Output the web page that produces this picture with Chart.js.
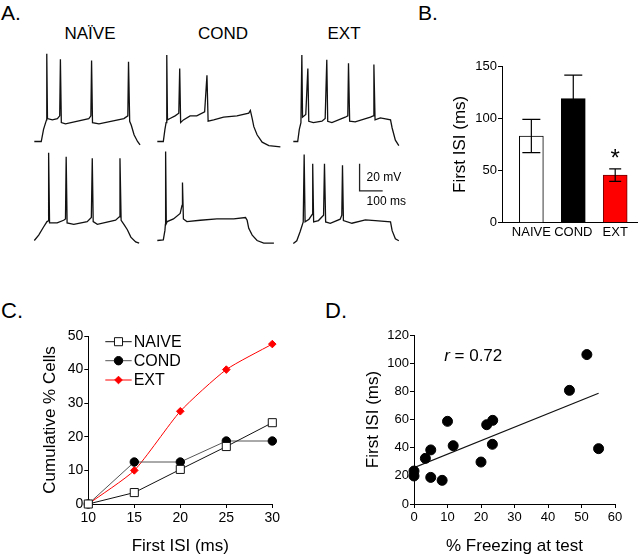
<!DOCTYPE html>
<html>
<head>
<meta charset="utf-8">
<script src="https://cdn.jsdelivr.net/npm/chart.js@4.4.1/dist/chart.umd.min.js"></script>
<style>
html, body { margin: 0; padding: 0; background: #fff; }
#fig { position: relative; width: 640px; height: 557px; overflow: hidden;
       font-family: "Liberation Sans", Arial, sans-serif; color: #000; }
#fig canvas { position: absolute; }
.lbl { position: absolute; line-height: 1; white-space: nowrap; }
.head { font-size: 17px; width: 80px; text-align: center; }
</style>
</head>
<body>
<div id="fig">
  <div class="lbl" style="left:1px;top:2px;font-size:21px">A.</div>
  <div class="lbl" style="left:418px;top:2px;font-size:21px">B.</div>
  <div class="lbl" style="left:1px;top:300px;font-size:22px">C.</div>
  <div class="lbl" style="left:325px;top:300px;font-size:22px">D.</div>

  <div class="lbl head" style="left:50px;top:25px">NAÏVE</div>
  <div class="lbl head" style="left:183px;top:25px">COND</div>
  <div class="lbl head" style="left:304px;top:25px">EXT</div>

  <canvas id="trNaiveTop" width="127" height="108" style="left:31.7px;top:47.2px"></canvas>
  <canvas id="trCondTop" width="127" height="108" style="left:155px;top:46.5px"></canvas>
  <canvas id="trExtTop" width="127" height="108" style="left:291px;top:47.2px"></canvas>
  <canvas id="trNaiveBot" width="127" height="108" style="left:31.7px;top:146.2px"></canvas>
  <canvas id="trCondBot" width="127" height="108" style="left:155px;top:145.5px"></canvas>
  <canvas id="trExtBot" width="127" height="108" style="left:291px;top:148.5px"></canvas>

  <canvas id="chartB" width="200" height="230" style="left:440px;top:50px"></canvas>
  <canvas id="chartC" width="310" height="257" style="left:0px;top:300px"></canvas>
  <canvas id="chartD" width="320" height="257" style="left:320px;top:300px"></canvas>
</div>

<script>
// ---- A. example traces, [ms, mV] vertices ----
const naiveTop = [[0,-65],[30,-65],[40,-56],[49,-51],[53,-49],[54,0],[57,-48],[78,-49],[100,-48],[110,-46],
  [113,-4],[117,-51],[135,-52],[236,-48],[245,-46],[248,-5],[252,-51],[280,-52],[388,-48],[405,-46],
  [408,-6],[413,-50],[420,-53],[432,-60],[447,-65],[458,-67.5]];
const condTop = [[0,-65],[26,-65],[33,-56],[38,-51],[41,-1],[44,-49],[55,-48],[77,-46],[93,-44],
  [97,-11],[101,-51],[113,-49],[142,-46],[171,-46],[205,-43],[215,-16],[220,-50],[244,-49],[287,-47],
  [345,-46],[396,-44],[403,-42],[411,-48],[418,-54],[432,-60],[454,-65.5],[483,-68],[533,-69]];
const extTop = [[0,-65],[19,-65],[26,-56],[33,-51],[37,-1],[40,-47],[54,-45],[63,-11],[67,-50],[87,-51],
  [124,-50],[138,-48],[145,-4.5],[149,-50],[167,-51],[225,-47],[236,-46],[239,-7],[244,-50],[268,-50.5],
  [334,-47],[346,-46],[349,-8],[354,-49],[377,-47.5],[421,-49],[428,-55],[442,-64],[457,-68]];
const naiveBottom = [[0,-65],[19,-61],[40,-55],[55,-51],[60,-50.5],[62,0],[66,-52],[99,-52],[127,-50],
  [135,-49],[138,-3],[142,-52],[171,-53],[229,-51],[247,-48],[251,-4],[255,-51],[273,-53],[352,-50],
  [368,-47.5],[371,-4],[376,-50],[388,-53],[403,-57],[418,-62.5],[439,-66],[454,-67]];
const condBottom = [[0,-65],[26,-64.5],[33,-57.5],[35,-53],[36,1],[39,-52.5],[43,-51],[70,-49],[99,-45],
  [107,-39],[109,-22],[113,-49],[128,-51],[186,-50],[258,-49],[331,-49],[382,-48],[389,-50],[396,-56],
  [411,-61],[432,-65],[461,-67],[505,-67]];
const extBottom = [[0,-65],[15,-63],[29,-56.5],[43,-49],[47,1],[51,-49],[68,-47],[82,-43.5],[84,-6],
  [88,-49],[109,-48],[131,-44],[135,-6],[140,-49],[160,-50],[203,-47],[210,-44],[213,-7],[217,-48],
  [254,-50],[312,-47.5],[355,-48],[421,-49],[428,-55.5],[442,-61.5],[457,-63]];
const scaleBarMs = 100, scaleBarMv = 20;
const scaleBarCorner = [287, -26];

// ---- B. first ISI by group ----
const isiGroups = ['NAIVE', 'COND', 'EXT'];
const isiMean = [83, 118.7, 45.6];
const isiSem = [16, 22.6, 6];
const sigMark = ['', '', '*'];

// ---- C. cumulative distribution ----
const isiBins = [10, 15, 20, 25, 30];
const cumNaive = [0, 3.4, 10.3, 17.1, 24.2];
const cumCond = [0, 12.5, 12.5, 18.75, 18.75];
const cumExt = [0, 10, 27.6, 40, 47.6];

// ---- D. correlation ----
const freezePct = [0, 0, 3.4, 5.0, 5.0, 8.4, 10.0, 11.7, 20.0, 21.7, 23.5, 23.4, 46.4, 51.6, 55.1];
const firstIsi = [23.4, 19.9, 32.4, 38.4, 18.9, 16.8, 58.7, 41.4, 29.8, 56.3, 59.4, 42.4, 80.7, 106.1, 39.3];
const fitX = [0, 55.1];
const fitY = [25.8, 78.6];
const rValue = '0.72';

const FONT = '"Liberation Sans", Arial, sans-serif';
Chart.defaults.font.family = FONT;
Chart.defaults.color = '#000';
Chart.defaults.animation = false;
Chart.defaults.plugins.legend.display = false;
Chart.defaults.plugins.tooltip.enabled = false;

// scale bar labels (only on last trace)
const scaleBarLabels = {
  id: 'scaleBarLabels',
  afterDraw(chart) {
    const { ctx, scales: { x, y } } = chart;
    const cx = x.getPixelForValue(scaleBarCorner[0]);
    const cy = y.getPixelForValue(scaleBarCorner[1]);
    const ty = y.getPixelForValue(scaleBarCorner[1] + scaleBarMv / 2);
    ctx.save();
    ctx.font = '12px ' + FONT;
    ctx.fillStyle = '#000';
    ctx.textBaseline = 'middle';
    ctx.fillText(scaleBarMv + ' mV', cx + 7, ty);
    ctx.fillText(scaleBarMs + ' ms', cx + 7, cy + 11);
    ctx.restore();
  }
};

function drawTrace(id, pts, withBar) {
  const datasets = [{
    data: pts.map(p => ({ x: p[0], y: p[1] })),
    borderColor: '#111', borderWidth: 1.3, pointRadius: 0, tension: 0, fill: false
  }];
  if (withBar) {
    const [bx, by] = scaleBarCorner;
    datasets.push({
      data: [{ x: bx, y: by + scaleBarMv }, { x: bx, y: by }, { x: bx + scaleBarMs, y: by }],
      borderColor: '#222', borderWidth: 1.3, pointRadius: 0, fill: false
    });
  }
  return new Chart(document.getElementById(id), {
    type: 'line',
    data: { datasets },
    options: {
      responsive: false, devicePixelRatio: 1,
      layout: { padding: 0 },
      scales: {
        x: { type: 'linear', min: -10, max: 540, display: false },
        y: { min: -75, max: 5, display: false }
      }
    },
    plugins: withBar ? [scaleBarLabels] : []
  });
}

drawTrace('trNaiveTop', naiveTop);
drawTrace('trCondTop', condTop);
drawTrace('trExtTop', extTop);
drawTrace('trNaiveBot', naiveBottom);
drawTrace('trCondBot', condBottom);
drawTrace('trExtBot', extBottom, true);

// shared axis styling for B, C, D
function yAxis(min, max, step, width, title, titlePad, tickSize) {
  return {
    min, max,
    afterFit: s => { s.width = width; },
    ticks: { stepSize: step, padding: 1, font: { size: tickSize } },
    grid: { drawOnChartArea: false, tickLength: 4, color: '#000' },
    border: { color: '#000', width: 1 },
    title: { display: true, text: title, font: { size: 17 }, padding: { top: titlePad, bottom: 0 } }
  };
}
function xAxis(min, max, step, height, title, tickSize) {
  return {
    type: 'linear', min, max,
    afterFit: s => { s.height = height; },
    ticks: { stepSize: step, padding: 2, maxRotation: 0, font: { size: tickSize } },
    grid: { drawOnChartArea: false, tickLength: 4, color: '#000' },
    border: { color: '#000', width: 1 },
    title: { display: true, text: title, font: { size: 17 }, padding: { top: 0, bottom: 0 } }
  };
}

// ---- B ----
const errorBars = {
  id: 'errorBars',
  afterDatasetsDraw(chart) {
    const { ctx, scales: { x, y } } = chart;
    const capHalf = [9, 9, 6];
    ctx.save();
    ctx.strokeStyle = '#000';
    ctx.lineWidth = 1.2;
    isiMean.forEach((m, i) => {
      const px = x.getPixelForValue(i + 1);
      const top = y.getPixelForValue(m + isiSem[i]);
      const bot = y.getPixelForValue(m - isiSem[i]);
      ctx.beginPath();
      ctx.moveTo(px, top); ctx.lineTo(px, bot);
      ctx.moveTo(px - capHalf[i], top); ctx.lineTo(px + capHalf[i], top);
      ctx.moveTo(px - capHalf[i], bot); ctx.lineTo(px + capHalf[i], bot);
      ctx.stroke();
      if (sigMark[i]) {
        ctx.font = '24px ' + FONT;
        ctx.fillStyle = '#000';
        ctx.textAlign = 'center';
        ctx.textBaseline = 'alphabetic';
        ctx.fillText(sigMark[i], px, top - 3);
      }
    });
    ctx.restore();
  }
};

const bY = yAxis(0, 150, 50, 62, 'First ISI (ms)', 9.8, 13);
new Chart(document.getElementById('chartB'), {
  type: 'bar',
  data: {
    datasets: [{
      data: isiGroups.map((g, i) => ({ x: i + 1, y: isiMean[i] })),
      backgroundColor: ['#ffffff', '#000000', '#ff0000'],
      borderColor: ['#000000', '#000000', '#700000'],
      borderWidth: 1,
      barThickness: 24
    }]
  },
  options: {
    responsive: false, devicePixelRatio: 1,
    layout: { padding: { left: 0, right: 3, top: 16, bottom: 0 } },
    scales: {
      x: {
        type: 'linear', min: 0.3, max: 3.52, offset: false,
        afterFit: s => { s.height = 57.3; },
        afterBuildTicks: s => { s.ticks = isiGroups.map((g, i) => ({ value: i + 1 })); },
        ticks: { callback: v => isiGroups[v - 1], autoSkip: false, maxRotation: 0, padding: 2, font: { size: 13 } },
        grid: { display: false, drawTicks: false, offset: false },
        border: { color: '#000', width: 1 }
      },
      y: bY
    }
  },
  plugins: [errorBars]
});

// ---- C ----
const lineLegend = {
  id: 'lineLegend',
  afterDraw(chart) {
    const { ctx, chartArea } = chart;
    const x0 = chartArea.left + 17, x1 = chartArea.left + 43.4;
    const rows = [5.7, 24.7, 44];
    ctx.save();
    chart.data.datasets.forEach((ds, i) => {
      const y = chartArea.top + rows[i];
      ctx.strokeStyle = ds.borderColor;
      ctx.lineWidth = ds.borderWidth;
      ctx.beginPath(); ctx.moveTo(x0, y); ctx.lineTo(x1, y); ctx.stroke();
      ctx.fillStyle = ds.pointBackgroundColor;
      ctx.strokeStyle = ds.pointBorderColor;
      ctx.lineWidth = 1;
      Chart.helpers.drawPoint(ctx, { pointStyle: ds.pointStyle, radius: ds.pointRadius, rotation: 0, borderWidth: 1 }, (x0 + x1) / 2, y);
      ctx.fillStyle = '#000';
      ctx.font = '16px ' + FONT;
      ctx.textBaseline = 'middle';
      ctx.textAlign = 'left';
      ctx.fillText(ds.label, x1 + 2, y + 1);
    });
    ctx.restore();
  }
};

function cumSeries(label, vals, color, style, radius, fillCol, tension) {
  return {
    label,
    data: isiBins.map((b, i) => ({ x: b, y: vals[i] })),
    borderColor: color, borderWidth: 1, tension,
    pointStyle: style, pointRadius: radius,
    pointBackgroundColor: fillCol, pointBorderColor: color === '#555555' ? '#000' : color,
    pointBorderWidth: 1, clip: false
  };
}

new Chart(document.getElementById('chartC'), {
  type: 'line',
  data: {
    datasets: [
      cumSeries('NAIVE', cumNaive, '#111111', 'rect', 5.7, '#ffffff', 0),
      cumSeries('COND', cumCond, '#555555', 'circle', 4.2, '#000000', 0),
      cumSeries('EXT', cumExt, '#ff0000', 'rectRot', 3.8, '#ff0000', 0.2)
    ]
  },
  options: {
    responsive: false, devicePixelRatio: 1,
    layout: { padding: { left: 0, right: 37.7, top: 36, bottom: 0 } },
    scales: {
      x: xAxis(10, 30, 5, 53, 'First ISI (ms)', 14),
      y: yAxis(0, 50, 10, 88.3, 'Cumulative % Cells', 39.8, 14)
    }
  },
  plugins: [lineLegend]
});

// ---- D ----
const rLabel = {
  id: 'rLabel',
  afterDraw(chart) {
    const { ctx, scales: { x, y } } = chart;
    const px = x.getPixelForValue(9), py = y.getPixelForValue(105);
    ctx.save();
    ctx.fillStyle = '#000';
    ctx.textBaseline = 'middle';
    ctx.font = 'italic 17px ' + FONT;
    ctx.fillText('r', px, py);
    const w = ctx.measureText('r').width;
    ctx.font = '17px ' + FONT;
    ctx.fillText(' = ' + rValue, px + w, py);
    ctx.restore();
  }
};

new Chart(document.getElementById('chartD'), {
  type: 'scatter',
  data: {
    datasets: [
      {
        data: freezePct.map((f, i) => ({ x: f, y: firstIsi[i] })),
        pointRadius: 5, pointBackgroundColor: '#000', pointBorderColor: '#000', clip: false
      },
      {
        type: 'line',
        data: fitX.map((f, i) => ({ x: f, y: fitY[i] })),
        borderColor: '#111', borderWidth: 1.2, pointRadius: 0, fill: false
      }
    ]
  },
  options: {
    responsive: false, devicePixelRatio: 1,
    layout: { padding: { left: 0, right: 25, top: 35, bottom: 0 } },
    scales: {
      x: xAxis(0, 60, 10, 53, '% Freezing at test', 13),
      y: yAxis(0, 120, 20, 94, 'First ISI (ms)', 42.8, 13)
    }
  },
  plugins: [rLabel]
});
</script>
</body>
</html>
